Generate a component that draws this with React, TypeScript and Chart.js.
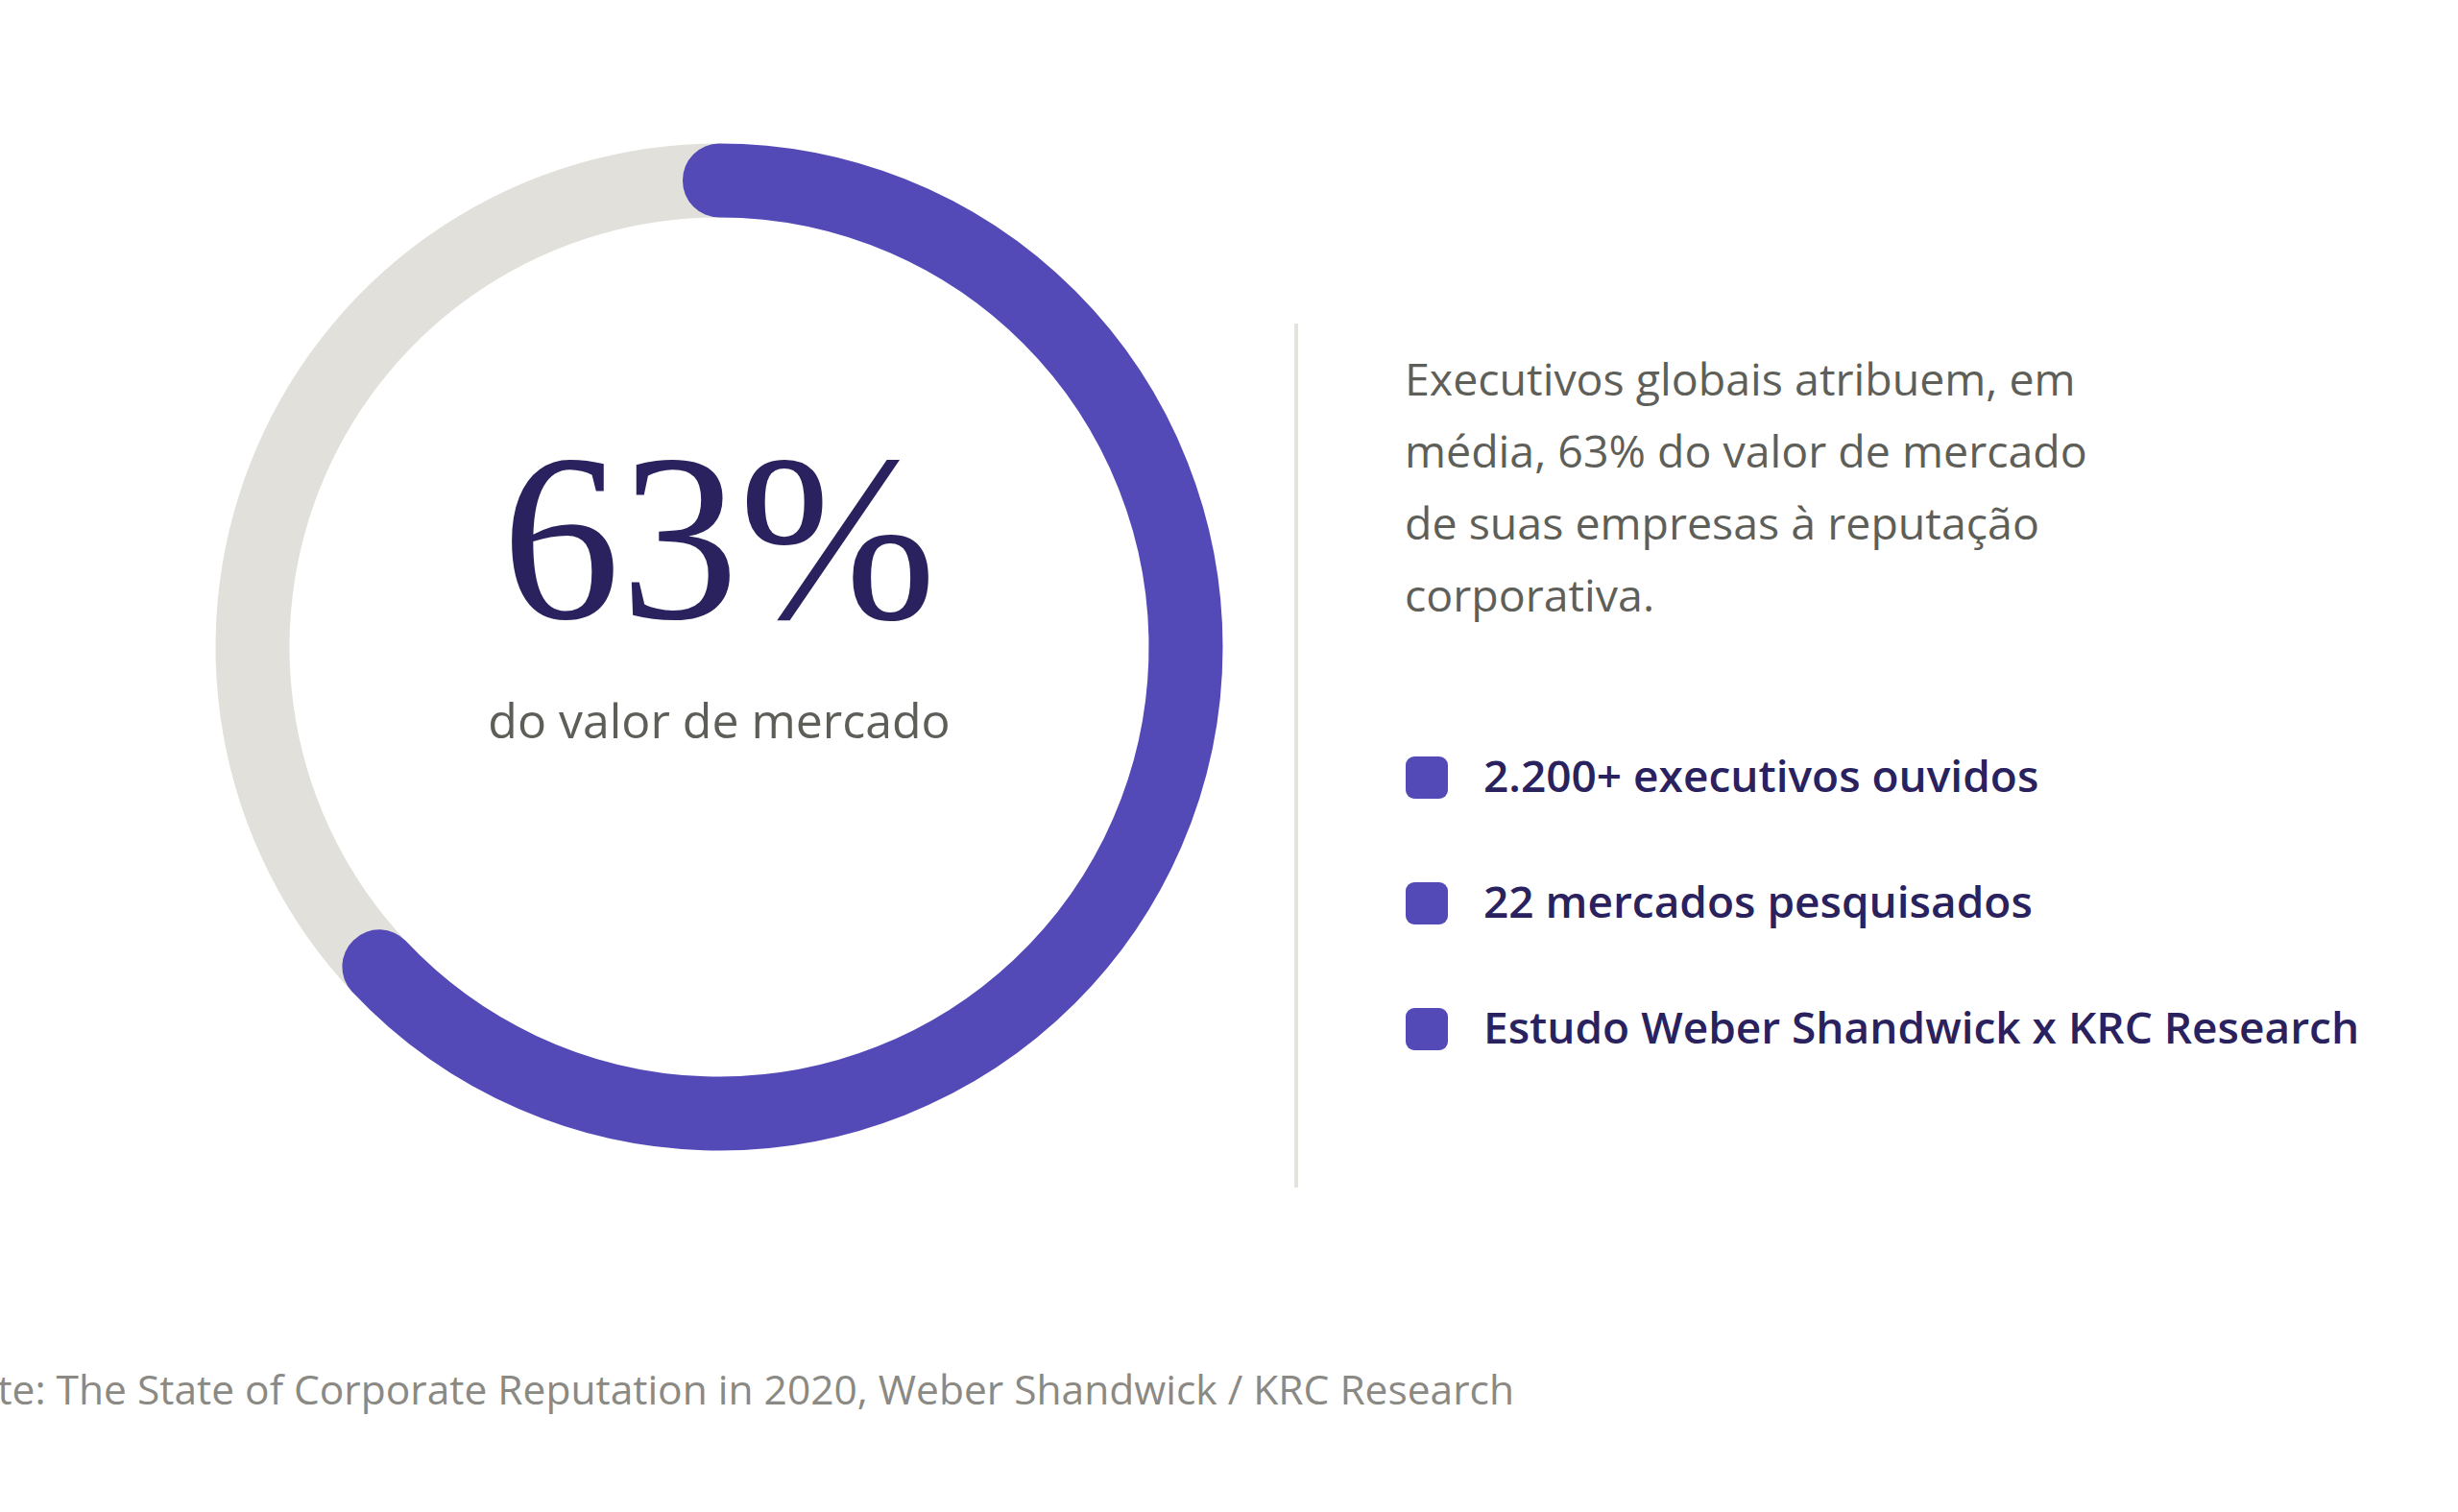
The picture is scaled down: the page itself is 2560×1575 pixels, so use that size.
import React, { useEffect, useRef } from 'react';
import { Chart, registerables } from 'chart.js';

Chart.register(...registerables);

// ---- data ----
const categories = ['Outros fatores', 'Reputação corporativa'];
const values = [37, 63];
const sliceColors = ['#E1E0DA', '#534AB7'];
const bigValueLabel = '63%';
const bigValueCaption = 'do valor de mercado';
const descriptionLines = [
  'Executivos globais atribuem, em',
  'média, 63% do valor de mercado',
  'de suas empresas à reputação',
  'corporativa.',
];
const bulletItems = [
  '2.200+ executivos ouvidos',
  '22 mercados pesquisados',
  'Estudo Weber Shandwick x KRC Research',
];
const sourceNote =
  'Fonte: The State of Corporate Reputation in 2020, Weber Shandwick / KRC Research';

// ---- layout constants ----
const CX = 749;
const CY = 674;
const CANVAS = 1200;
const MID_R = 486;
const RING_W = 76;
const NAVY = '#29225E';
const SANS = '"Open Sans", "Noto Sans", sans-serif';

function Doughnut() {
  const ref = useRef<HTMLCanvasElement | null>(null);
  useEffect(() => {
    if (!ref.current) return;
    const total = values.reduce((a, b) => a + b, 0);
    const rotation = -(values[0] / total) * 360;
    const chart = new Chart(ref.current, {
      type: 'doughnut',
      data: {
        labels: categories,
        datasets: [
          {
            data: values,
            backgroundColor: sliceColors,
            borderColor: sliceColors,
            borderWidth: RING_W,
            borderAlign: 'center',
            borderJoinStyle: 'round',
            hoverOffset: 0,
          } as any,
        ],
      },
      options: {
        responsive: false,
        animation: false,
        events: [],
        radius: MID_R + 0.5,
        cutout: `${((MID_R - 0.5) / (MID_R + 0.5)) * 100}%`,
        rotation,
        layout: { padding: 0 },
        plugins: {
          legend: { display: false },
          tooltip: { enabled: false },
        },
      } as any,
    });
    return () => chart.destroy();
  }, []);
  return (
    <canvas
      ref={ref}
      width={CANVAS}
      height={CANVAS}
      style={{
        position: 'absolute',
        left: CX - CANVAS / 2,
        top: CY - CANVAS / 2,
        width: CANVAS,
        height: CANVAS,
      }}
    />
  );
}

export default function App() {
  return (
    <div
      style={{
        position: 'fixed',
        left: 0,
        top: 0,
        width: 2560,
        height: 1575,
        overflow: 'hidden',
        background: '#ffffff',
      }}
    >
      <Doughnut />
      <div
        style={{
          position: 'absolute',
          left: CX - 500,
          top: 437,
          width: 1000,
          textAlign: 'center',
          fontFamily: '"Liberation Serif", "DejaVu Serif", serif',
          fontSize: 247,
          lineHeight: 1,
          color: NAVY,
          whiteSpace: 'nowrap',
        }}
      >
        {bigValueLabel}
      </div>
      <div
        style={{
          position: 'absolute',
          left: CX - 500,
          top: 725,
          width: 1000,
          textAlign: 'center',
          fontFamily: SANS,
          fontSize: 50,
          lineHeight: 1,
          color: '#5E5E59',
          whiteSpace: 'nowrap',
        }}
      >
        {bigValueCaption}
      </div>

      <div
        style={{
          position: 'absolute',
          left: 1348,
          top: 337,
          width: 4,
          height: 900,
          background: '#E4E3DE',
        }}
      />

      <div
        style={{
          position: 'absolute',
          left: 1463,
          top: 356.5,
          fontFamily: SANS,
          fontSize: 46.5,
          lineHeight: '75px',
          color: '#5F5F5A',
          whiteSpace: 'nowrap',
        }}
      >
        {descriptionLines.map((l, i) => (
          <div key={i}>{l}</div>
        ))}
      </div>

      {bulletItems.map((t, i) => (
        <React.Fragment key={i}>
          <div
            style={{
              position: 'absolute',
              left: 1464,
              top: 788 + i * 131,
              width: 44,
              height: 44,
              borderRadius: 9,
              background: '#534AB7',
            }}
          />
          <div
            style={{
              position: 'absolute',
              left: 1545,
              top: 825 + i * 131 - 0.888 * 46,
              fontFamily: SANS,
              fontSize: 46,
              fontWeight: 600,
              lineHeight: 1,
              color: NAVY,
              whiteSpace: 'nowrap',
            }}
          >
            {t}
          </div>
        </React.Fragment>
      ))}

      <div
        style={{
          position: 'absolute',
          right: 2560 - 1577,
          top: 1464 - 0.888 * 42.5,
          textAlign: 'right',
          fontFamily: SANS,
          fontSize: 42.5,
          lineHeight: 1,
          color: '#8A8984',
          whiteSpace: 'nowrap',
        }}
      >
        {sourceNote}
      </div>
    </div>
  );
}
